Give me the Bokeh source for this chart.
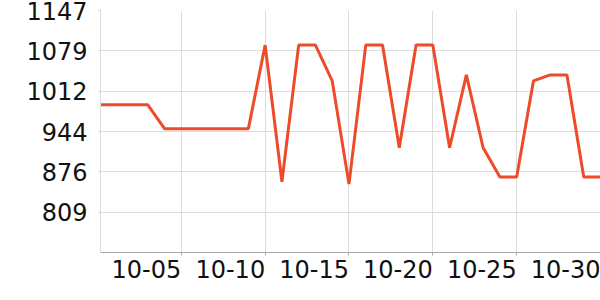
import numpy as np
from bokeh.plotting import figure
from bokeh.models import FixedTicker, Range1d, ColumnDataSource, LinearAxis
from bokeh.embed import file_html
from bokeh.resources import INLINE

# day index 0 = 09-30
days = list(range(31))
values = [989, 989, 989, 989, 949, 949, 949, 949, 949, 949,
          1089, 860, 1089, 1089, 1029, 856, 1089, 1089, 917, 1089,
          1089, 917, 1039, 917, 868, 868, 1029, 1039, 1039, 868, 868]
x_tick_days = [5, 10, 15, 20, 25, 30]
x_tick_labels = ["10-05", "10-10", "10-15", "10-20", "10-25", "10-30"]
y_tick_labels = ["809", "876", "944", "1012", "1079", "1147"]

y_lo_lab, y_hi_lab = float(y_tick_labels[0]), float(y_tick_labels[-1])
y_ticks = list(np.linspace(y_lo_lab, y_hi_lab, len(y_tick_labels)))
step = y_ticks[1] - y_ticks[0]

p = figure(width=600, height=300, output_backend="svg", toolbar_location=None,
           min_border_left=100, min_border_right=0, min_border_top=10, min_border_bottom=48,
           x_range=Range1d(0.18, 30), y_range=Range1d(y_hi_lab - 6 * step, y_hi_lab))
p.outline_line_color = None

src = ColumnDataSource(dict(x=days, y=values))
p.line("x", "y", source=src, line_color="#ee4b2b", line_width=3)

# primary x axis: ticks only
p.xaxis.ticker = FixedTicker(ticks=x_tick_days)
p.xaxis.major_label_overrides = {d: "" for d in x_tick_days}
p.xaxis.major_label_text_font_size = "1px"
p.xaxis.major_label_standoff = 0
p.xaxis.axis_line_color = "#aaaaaa"
p.xaxis.major_tick_line_color = "#aaaaaa"
p.xaxis.major_tick_out = 3
p.xaxis.major_tick_in = 0
p.xaxis.minor_tick_line_color = None

# label axis: labels right-aligned at their ticks
label_shift = 2.08
label_pos = [d - label_shift for d in x_tick_days]
lab_ax = LinearAxis(ticker=FixedTicker(ticks=label_pos),
                    major_label_overrides={pp: l for pp, l in zip(label_pos, x_tick_labels)},
                    axis_line_color=None, major_tick_line_color=None, minor_tick_line_color=None,
                    major_tick_in=0, major_tick_out=0, major_label_standoff=4,
                    major_label_text_font="DejaVu Sans", major_label_text_font_size="24px",
                    major_label_text_color="#111111")
p.add_layout(lab_ax, "below")

p.yaxis.ticker = FixedTicker(ticks=y_ticks)
p.yaxis.major_label_overrides = {t: l for t, l in zip(y_ticks, y_tick_labels)}
p.yaxis.major_label_text_font = "DejaVu Sans"
p.yaxis.major_label_text_font_size = "24px"
p.yaxis.major_label_text_color = "#111111"
p.yaxis.minor_tick_line_color = None
p.yaxis.major_tick_in = 0
p.yaxis.axis_line_color = "#dddddd"
p.yaxis.major_tick_line_color = "#cccccc"
p.yaxis.major_tick_out = 2
p.yaxis.major_label_standoff = 11

p.xgrid.ticker = FixedTicker(ticks=x_tick_days)
p.xgrid.grid_line_color = "#dddddd"
p.ygrid.grid_line_color = "#dddddd"

open("out.html", "w").write(file_html(p, INLINE))
